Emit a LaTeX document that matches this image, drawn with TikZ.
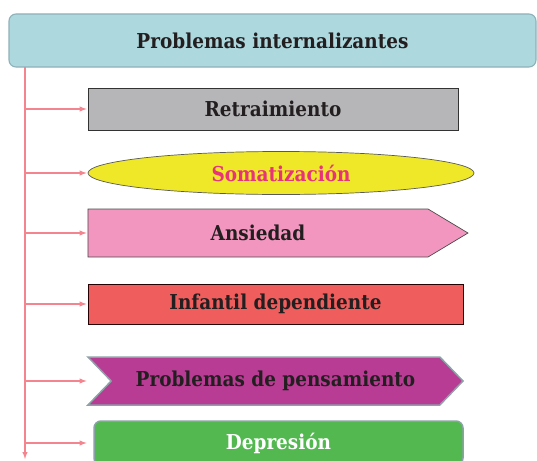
\documentclass[tikz,border=0pt]{standalone}
\usepackage{fontspec}
\setmainfont{DejaVu Serif Condensed}
\usetikzlibrary{shapes.geometric, shapes.symbols, arrows.meta, positioning}
\definecolor{tit}{HTML}{ADD8DE}
\definecolor{titb}{HTML}{8FB1B8}
\definecolor{gris}{HTML}{B6B6B9}
\definecolor{amar}{HTML}{EEE829}
\definecolor{rosa}{HTML}{E8337A}
\definecolor{pink}{HTML}{F296BF}
\definecolor{rojo}{HTML}{F05D5D}
\definecolor{mora}{HTML}{B83C94}
\definecolor{verde}{HTML}{52B84F}
\definecolor{azgr}{HTML}{8CA1A8}
\definecolor{lin}{HTML}{F4858E}
\definecolor{txt}{HTML}{231F20}

\begin{document}
\begin{tikzpicture}[x=1pt, y=-1pt, font=\bfseries\fontsize{20.5}{24}\selectfont, >=latex,
    t/.style={draw=titb, fill=tit, line width=1.1pt, rounded corners=7pt, text=txt, minimum width=527pt, minimum height=53pt},
    b/.style={draw, line width=0.7pt, text=txt, inner sep=0pt},
    c/.style={draw=lin, line width=1.4pt, ->, shorten >=1pt}
]
    \useasboundingbox (0,0) rectangle (537,460);
    \node[t] (top) at (272.5,40.5) {Problemas internalizantes};
    \node[b, fill=gris, draw=black!80, minimum width=370pt, minimum height=42pt] (r1) at (273,109) {Retraimiento};
    \node[b, ellipse, fill=amar, draw=black!65, text=rosa, minimum width=386pt, minimum height=43pt] (r2) at (281,173) {Somatización};
    \node[b, signal, signal to=east, signal pointer angle=62, fill=pink, draw=black!70, minimum width=380pt, minimum height=48pt] (r3) at (258,233) {Ansiedad};
    \node[b, fill=rojo, draw=black!85!red, minimum width=375pt, minimum height=40pt] (r4) at (275.5,304) {Infantil dependiente};
    \node[b, signal, signal from=west, signal to=east, signal pointer angle=92, fill=mora, draw=azgr, line width=1.5pt, minimum width=375pt, minimum height=48pt] (r5) at (275.5,381) {Problemas de pensamiento};
    \node[b, fill=verde, draw=azgr, line width=1.5pt, rounded corners=7pt, text=white, minimum width=369pt, minimum height=44pt] (r6) at (278.5,443) {Depresión};
    \coordinate (v) at (25,67);
    \coordinate (vend) at (25,460);
    \draw[c] (v) -- (vend);
    \foreach \n in {r1,r2,r3,r4,r5,r6}
        \draw[c] (v |- \n) -- (r1.west |- \n);
\end{tikzpicture}
\end{document}
